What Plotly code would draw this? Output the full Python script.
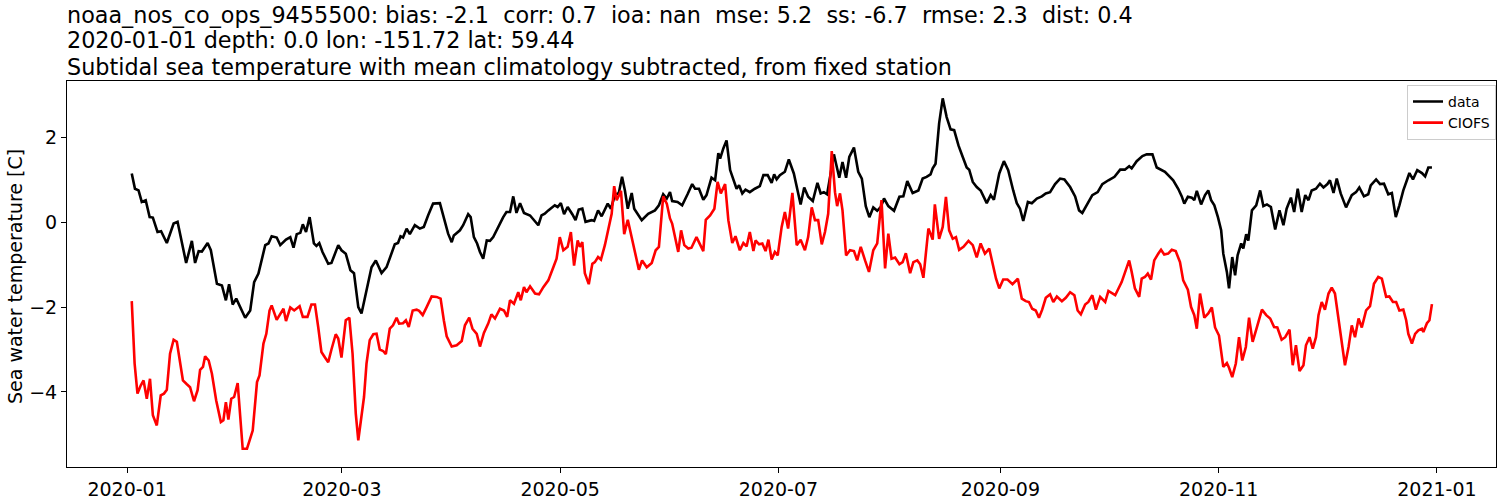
import pandas as pd
import plotly.graph_objects as go

# ---- data (day offsets from 2020-01-01, values in deg C) ----
data_days = [1.3, 2.2, 3.2, 4.1, 5.2, 6.3, 7.2, 8.5, 9.5, 11.1, 13.0, 14.1, 16.5, 18.1, 19.0, 20.0,
             20.9, 22.5, 23.4, 25.1, 26.5, 27.6, 28.5, 29.5, 30.5, 31.8, 33.0, 34.4, 35.5, 36.7,
             38.6, 39.5, 40.4, 41.8, 42.8, 44.4, 45.6, 46.5, 47.4, 48.4, 49.1, 50.0, 51.0, 52.2,
             52.9, 53.7, 54.6, 56.2, 57.1, 59.0, 59.9, 61.1, 62.4, 63.4, 64.6, 65.5, 66.9, 68.3,
             69.5, 71.1, 72.5, 74.8, 75.7, 76.4, 77.1, 78.1, 79.0, 80.4, 81.8, 82.9, 84.1, 85.5,
             87.4, 88.8, 89.7, 90.7, 91.3, 93.0, 93.9, 95.3, 96.0, 96.9, 97.8, 98.6, 99.5, 100.5,
             101.4, 102.3, 103.7, 105.1, 106.0, 107.0, 107.9, 108.8, 109.8, 110.9, 112.6, 113.7,
             114.9, 115.8, 116.7, 117.7, 119.5, 120.3, 121.2, 122.1, 123.1, 124.4, 125.3, 126.2,
             127.2, 128.1, 129.8, 130.5, 131.6, 132.6, 134.3, 135.2, 136.3, 137.4, 138.3, 139.1,
             139.9, 141.0, 141.7, 143.8, 145.6, 147.5, 148.6, 149.8, 150.8, 151.7, 152.3, 153.8,
             155.1, 156.6, 157.9, 158.7, 159.8, 161.0, 161.9, 163.3, 164.3, 165.2, 165.7, 166.6,
             167.5, 168.5, 169.7, 170.3, 171.0, 171.9, 172.8, 174.0, 175.4, 176.8, 177.8, 179.0,
             180.1, 180.8, 181.5, 182.4, 183.8, 184.9, 186.3, 188.2, 189.2, 190.3, 191.6, 192.9,
             193.8, 194.7, 195.6, 196.7, 197.5, 198.1, 199.0, 199.9, 200.9, 201.8, 203.1, 204.3,
             205.3, 206.4, 207.4, 208.5, 209.6, 210.6, 211.5, 212.7, 214.3, 215.8, 216.9, 218.0,
             219.5, 221.1, 222.3, 223.4, 224.5, 225.1, 225.9, 226.9, 227.9, 229.0, 230.1, 231.1,
             232.3, 233.5, 234.6, 235.3, 236.3, 237.4, 238.5, 240.2, 241.3, 242.2, 243.7, 245.0,
             246.2, 247.6, 248.6, 249.5, 250.4, 251.7, 252.8, 254.2, 255.6, 256.7, 257.9, 259.3,
             260.7, 261.9, 263.5, 264.9, 266.0, 266.9, 268.4, 269.7, 271.2, 272.5, 274.2, 275.9,
             277.5, 278.8, 280.0, 280.7, 282.1, 283.7, 284.9, 286.5, 287.7, 288.9, 290.0, 290.9,
             292.3, 293.7, 294.7, 295.4, 296.4, 297.5, 298.2, 298.9, 300.1, 301.2, 302.1, 302.9,
             303.8, 304.8, 305.7, 306.3, 307.3, 307.9, 308.8, 309.6, 310.3, 311.3, 311.9, 312.7,
             313.3, 314.3, 315.5, 316.6, 317.5, 318.5, 319.6, 320.8, 322.0, 323.1, 324.0, 325.2,
             326.1, 327.1, 328.2, 329.2, 330.1, 331.0, 332.2, 333.3, 334.3, 335.4, 336.1, 337.1,
             338.0, 339.1, 340.6, 342.2, 343.4, 344.3, 345.6, 346.8, 347.5, 349.0, 350.1, 351.2,
             352.4, 353.4, 354.5, 355.5, 356.6, 357.6, 358.3, 359.3, 360.5, 361.8, 362.7, 363.6,
             364.6]
data_vals = [1.15, 0.79, 0.75, 0.48, 0.52, 0.12, 0.11, -0.23, -0.21, -0.49, -0.03, 0.01, -0.96, -0.44,
             -0.96, -0.68, -0.69, -0.49, -0.66, -1.45, -1.49, -1.84, -1.46, -1.94, -1.80, -2.04,
             -2.25, -2.08, -1.41, -1.21, -0.54, -0.50, -0.33, -0.36, -0.54, -0.41, -0.35, -0.60,
             -0.28, -0.25, -0.05, -0.23, 0.12, -0.50, -0.56, -0.49, -0.70, -0.98, -0.96, -0.54,
             -0.66, -0.74, -1.13, -1.20, -2.00, -2.15, -1.60, -1.06, -0.90, -1.20, -1.06, -0.52,
             -0.49, -0.33, -0.36, -0.15, -0.28, -0.07, -0.15, -0.11, 0.16, 0.44, 0.45, -0.03,
             -0.27, -0.47, -0.31, -0.19, -0.07, 0.19, 0.12, -0.35, -0.50, -0.70, -0.86, -0.43,
             -0.44, -0.35, -0.11, 0.12, 0.24, 0.24, 0.61, 0.22, 0.45, 0.22, 0.16, 0.05, -0.07,
             0.16, 0.20, 0.28, 0.40, 0.36, 0.45, 0.19, 0.36, 0.19, 0.05, 0.30, 0.32, 0.01, 0.05,
             0.03, 0.28, 0.14, 0.44, 0.32, 0.64, 0.69, 1.07, 0.75, 0.32, 0.69, 0.32, 0.05, 0.20,
             0.28, 0.40, 0.66, 0.56, 0.71, 0.50, 0.48, 0.40, 0.66, 0.90, 0.79, 0.79, 0.53, 0.64,
             1.05, 0.99, 1.63, 1.50, 1.74, 1.93, 1.23, 0.91, 0.79, 0.87, 0.68, 0.77, 0.71, 0.79,
             0.85, 1.11, 1.11, 0.93, 1.13, 1.01, 1.11, 1.19, 1.48, 1.15, 0.42, 0.82, 0.60, 0.50,
             0.93, 0.68, 0.71, 0.66, 1.16, 1.60, 1.38, 1.05, 1.42, 1.05, 1.54, 1.76, 1.19, 1.03,
             0.38, 0.12, 0.35, 0.27, 0.36, 0.56, 0.38, 0.27, 0.60, 0.61, 0.97, 0.69, 0.75, 1.03,
             1.07, 1.13, 1.27, 1.38, 2.33, 2.92, 2.48, 2.19, 2.17, 1.81, 1.54, 1.29, 1.24, 0.95,
             0.83, 0.75, 0.45, 0.64, 0.53, 1.15, 1.44, 1.23, 0.75, 0.45, 0.32, 0.03, 0.48, 0.45,
             0.56, 0.61, 0.68, 0.71, 0.90, 1.03, 1.01, 0.83, 0.61, 0.28, 0.22, 0.44, 0.64, 0.71,
             0.90, 0.99, 1.07, 1.24, 1.24, 1.32, 1.27, 1.44, 1.56, 1.60, 1.60, 1.29, 1.23, 1.19,
             1.11, 0.99, 0.79, 0.61, 0.44, 0.60, 0.58, 0.52, 0.74, 0.42, 0.64, 0.75, 0.52, 0.40,
             0.12, -0.19, -0.74, -1.17, -1.56, -0.82, -1.25, -0.78, -0.50, -0.62, -0.28, -0.43,
             0.28, 0.40, 0.75, 0.38, 0.42, 0.36, -0.17, 0.28, -0.07, 0.32, 0.58, 0.24, 0.79, 0.24,
             0.64, 0.52, 0.75, 0.79, 0.91, 0.82, 0.90, 0.99, 0.69, 1.03, 0.68, 0.35, 0.64, 0.71,
             0.82, 0.61, 0.66, 0.87, 1.01, 0.90, 0.91, 0.66, 0.69, 0.12, 0.40, 0.75, 0.99, 1.16,
             1.01, 1.23, 1.16, 1.08, 1.29, 1.29]

model_days = [1.3, 2.1, 2.9, 3.8, 4.6, 5.5, 6.4, 7.2, 8.3, 9.4, 10.3, 11.1, 12.0, 13.0, 13.9, 14.8,
              15.6, 16.7, 17.6, 18.7, 19.7, 20.4, 21.2, 21.8, 22.8, 23.7, 24.9, 26.2, 26.9, 27.6,
              28.3, 29.1, 29.9, 30.9, 31.6, 32.3, 33.5, 34.4, 35.1, 36.3, 37.0, 38.1, 38.9, 39.8,
              40.4, 41.8, 42.8, 43.7, 44.4, 45.6, 46.7, 48.2, 49.1, 50.4, 51.5, 52.5, 53.4, 54.3,
              55.3, 56.2, 57.1, 58.3, 59.0, 59.9, 61.1, 62.1, 63.0, 63.9, 64.6, 65.5, 66.2, 66.9,
              67.8, 68.8, 69.7, 70.6, 71.6, 72.3, 73.4, 74.3, 75.3, 76.0, 77.1, 77.9, 78.7, 79.8,
              80.9, 81.6, 82.6, 83.7, 85.1, 86.5, 87.6, 88.5, 89.3, 90.7, 92.1, 93.5, 94.4, 95.6,
              96.5, 97.7, 98.6, 99.7, 100.9, 101.8, 102.8, 104.2, 105.3, 106.2, 107.0, 108.1,
              109.3, 110.0, 110.9, 111.6, 112.6, 114.0, 115.1, 116.3, 117.7, 119.1, 120.0, 120.9,
              121.9, 123.1, 124.0, 124.9, 125.9, 126.5, 127.2, 127.9, 129.0, 130.0, 130.7, 131.6,
              132.4, 133.5, 134.6, 135.4, 136.1, 136.8, 138.0, 138.9, 139.9, 140.8, 141.7, 143.0,
              143.9, 145.2, 146.6, 147.7, 148.6, 149.2, 149.8, 150.8, 151.7, 152.3, 153.1, 154.0,
              154.8, 155.7, 156.8, 157.7, 159.1, 160.1, 161.0, 161.7, 162.9, 164.1, 165.0, 165.9,
              167.1, 168.0, 169.1, 170.0, 171.2, 172.2, 173.1, 174.0, 175.0, 175.6, 176.6, 177.5,
              178.4, 179.2, 180.1, 181.0, 181.8, 182.9, 183.8, 184.7, 185.9, 187.1, 188.2, 189.4,
              190.3, 191.3, 192.2, 193.1, 194.1, 195.0, 195.9, 196.9, 197.8, 198.4, 199.2, 199.9,
              200.9, 202.0, 203.1, 204.0, 205.0, 206.2, 207.3, 208.5, 209.6, 210.8, 211.8, 212.7,
              213.6, 214.6, 215.8, 216.7, 217.6, 218.8, 219.7, 220.8, 221.6, 222.5, 223.2, 223.9,
              224.5, 225.1, 225.7, 226.2, 226.9, 227.9, 228.8, 229.7, 230.7, 231.6, 232.5, 233.7,
              235.1, 236.3, 237.4, 238.5, 239.7, 240.9, 241.9, 242.8, 243.7, 244.8, 246.0, 247.4,
              248.9, 250.0, 251.1, 252.0, 252.9, 253.9, 254.8, 255.7, 256.7, 257.9, 258.8, 259.8,
              261.2, 262.3, 263.5, 264.7, 265.6, 266.5, 267.7, 268.6, 269.7, 270.7, 271.9, 273.3,
              274.2, 276.1, 277.9, 278.8, 280.0, 280.7, 281.6, 282.8, 283.5, 284.4, 285.2, 286.1,
              287.0, 288.2, 288.9, 289.8, 290.9, 291.9, 293.0, 294.2, 295.1, 296.4, 297.3, 298.2,
              298.9, 299.8, 301.0, 302.1, 303.1, 304.0, 305.1, 306.3, 307.3, 307.9, 308.8, 309.8,
              310.7, 311.6, 312.6, 313.5, 314.5, 315.7, 317.1, 318.3, 319.4, 320.5, 321.4, 322.6,
              323.6, 324.8, 325.7, 326.6, 327.6, 328.7, 329.4, 330.4, 331.3, 332.2, 332.9, 333.8,
              334.7, 335.7, 336.6, 337.5, 338.5, 339.4, 340.3, 341.3, 342.2, 343.1, 344.1, 345.0,
              346.2, 347.3, 348.4, 349.6, 350.6, 351.8, 352.7, 353.7, 354.6, 355.5, 356.6, 357.4,
              358.0, 359.0, 359.9, 360.8, 361.8, 362.2, 363.2, 363.9, 364.6]
model_vals = [-1.86, -3.33, -4.04, -3.85, -3.73, -4.16, -3.69, -4.55, -4.79, -4.08, -4.04, -3.95,
              -3.10, -2.77, -2.82, -3.33, -3.73, -3.82, -3.89, -4.22, -3.96, -3.48, -3.41, -3.16,
              -3.26, -3.57, -4.20, -4.71, -4.67, -4.24, -4.65, -4.16, -4.12, -3.79, -4.51, -5.34,
              -5.34, -5.06, -4.91, -3.77, -3.61, -2.86, -2.63, -2.08, -1.96, -2.30, -2.15, -2.04,
              -2.33, -2.01, -2.08, -1.98, -2.23, -2.23, -1.94, -1.94, -2.47, -3.06, -3.19, -3.30,
              -3.00, -2.64, -2.74, -3.19, -2.31, -2.25, -3.10, -4.51, -5.14, -4.59, -4.12, -3.33,
              -2.78, -2.64, -2.63, -3.00, -3.04, -3.11, -2.51, -2.43, -2.25, -2.39, -2.38, -2.31,
              -2.47, -2.08, -2.06, -2.09, -2.19, -2.00, -1.75, -1.76, -1.80, -2.31, -2.69, -2.93,
              -2.90, -2.80, -2.43, -2.25, -2.51, -2.63, -2.93, -2.61, -2.39, -2.17, -2.27, -2.04,
              -2.08, -2.23, -1.84, -1.92, -1.65, -1.84, -1.53, -1.65, -1.51, -1.68, -1.70, -1.53,
              -1.37, -1.06, -0.86, -0.35, -0.66, -0.58, -0.23, -1.02, -0.43, -0.58, -0.47, -1.20,
              -1.46, -0.98, -0.94, -0.82, -0.88, -0.54, -0.11, 0.20, 0.85, 0.52, 0.74, -0.28, 0.06,
              -0.27, -0.62, -1.12, -0.90, -1.06, -0.96, -0.66, -0.58, 0.01, 0.61, 0.44, 0.09, -0.03,
              -0.33, -0.70, -0.19, -0.54, -0.62, -0.60, -0.35, -0.54, -0.68, 0.06, 0.16, 0.32, 0.95,
              0.68, 0.90, 0.05, -0.49, -0.33, -0.66, -0.49, -0.57, -0.23, -0.68, -0.43, -0.52,
              -0.50, -0.68, -0.41, -0.88, -0.70, -0.78, -0.11, 0.24, -0.15, 0.69, -0.54, -0.41,
              -0.66, -0.35, 0.35, 0.05, 0.05, -0.52, -0.23, 0.20, 1.68, 0.71, 0.38, 0.68, 0.28,
              -0.78, -0.66, -0.68, -0.90, -0.58, -0.90, -1.17, -0.66, -0.50, 0.52, -1.09, -0.27,
              -0.86, -0.83, -0.99, -0.94, -0.73, -1.20, -0.94, -0.90, -0.99, -1.31, -0.78, -0.15,
              -0.27, -0.41, 0.42, 0.12, -0.39, -0.11, 0.60, -0.19, -0.39, -0.35, -0.65, -0.58,
              -0.44, -0.54, -0.83, -0.50, -0.74, -0.62, -1.02, -1.33, -1.56, -1.35, -1.35, -1.46,
              -1.33, -1.80, -1.86, -1.88, -2.04, -2.08, -2.25, -2.06, -1.78, -1.70, -1.88, -1.75,
              -1.86, -1.78, -1.65, -1.72, -2.08, -2.17, -1.94, -1.88, -1.72, -2.06, -1.76, -1.88,
              -1.62, -1.72, -1.41, -1.20, -0.90, -1.17, -1.56, -1.76, -1.33, -1.29, -1.21, -1.35,
              -0.90, -0.73, -0.65, -0.76, -0.74, -0.65, -0.68, -0.94, -1.37, -1.59, -2.00, -2.19,
              -2.51, -1.68, -2.25, -2.15, -2.01, -2.48, -2.67, -3.41, -3.32, -3.43, -3.65, -3.33,
              -2.71, -3.26, -2.94, -2.25, -2.82, -2.47, -2.06, -2.19, -2.27, -2.47, -2.48, -2.77,
              -2.71, -2.53, -3.37, -2.90, -3.51, -3.37, -2.90, -2.71, -2.98, -2.71, -2.19, -1.88,
              -2.06, -1.68, -1.54, -1.68, -2.31, -2.86, -3.37, -2.94, -2.43, -2.71, -2.27, -2.48,
              -2.08, -1.98, -1.45, -1.29, -1.33, -1.76, -1.75, -1.88, -1.88, -2.08, -2.06, -2.31,
              -2.63, -2.86, -2.63, -2.55, -2.51, -2.59, -2.38, -2.31, -1.93]

series_names = ["data", "CIOFS"]
series_colors = ["black", "red"]
x_tick_dates = ["2020-01-01", "2020-03-01", "2020-05-01", "2020-07-01",
                "2020-09-01", "2020-11-01", "2021-01-01"]
x_tick_text = ["2020-01", "2020-03", "2020-05", "2020-07", "2020-09", "2020-11", "2021-01"]
y_ticks = [-4, -2, 0, 2]

title_lines = [
    "noaa_nos_co_ops_9455500: bias: -2.1  corr: 0.7  ioa: nan  mse: 5.2  ss: -6.7  rmse: 2.3  dist: 0.4",
    "2020-01-01 depth: 0.0 lon: -151.72 lat: 59.44",
    "Subtidal sea temperature with mean climatology subtracted, from fixed station",
]
y_title = "Sea water temperature [C]"

start = pd.Timestamp("2020-01-01")


def to_dates(days):
    return [start + pd.Timedelta(days=d) for d in days]


FONT = "DejaVu Sans"

fig = go.Figure()
for days, vals, name, color in zip([data_days, model_days], [data_vals, model_vals],
                                   series_names, series_colors):
    fig.add_trace(go.Scatter(x=to_dates(days), y=vals, mode="lines", name=name,
                             line=dict(color=color, width=2.6)))

# title lines, stacked upward from the top of the axes
title_shifts = [51, 25.5, -1]
annotations = []
for line, shift in zip(title_lines, title_shifts):
    annotations.append(dict(
        text=line, x=0, y=1, xref="paper", yref="paper",
        xanchor="left", yanchor="bottom", align="left", showarrow=False,
        font=dict(size=22.3, family=FONT, color="black"), xshift=-2, yshift=shift,
    ))
# y-axis label
annotations.append(dict(
    text=y_title, x=0, y=0.5, xref="paper", yref="paper",
    xanchor="center", yanchor="middle", textangle=-90, showarrow=False,
    font=dict(size=19, family=FONT, color="black"), xshift=-52, yshift=-3,
))

fig.update_layout(
    width=1500, height=500,
    margin=dict(l=67.3, r=4, t=80.7, b=33.3, autoexpand=False),
    paper_bgcolor="white", plot_bgcolor="white",
    font=dict(family=FONT, color="black", size=18),
    showlegend=True,
    legend=dict(x=1.0, y=0.99, xanchor="right", yanchor="top",
                bgcolor="rgba(255,255,255,0.8)", bordercolor="#cccccc", borderwidth=1,
                font=dict(size=14, family=FONT), itemwidth=30, tracegroupgap=0),
    annotations=annotations,
)

fig.update_xaxes(
    type="date", automargin=False,
    range=["2019-12-15 05:00", "2021-01-17 12:00"],
    tickvals=x_tick_dates, ticktext=x_tick_text,
    showgrid=False, zeroline=False,
    showline=True, linecolor="black", linewidth=1, mirror=True,
    ticks="outside", ticklen=5, tickwidth=1, tickcolor="black",
    tickfont=dict(size=19, family=FONT),
)
fig.update_yaxes(
    automargin=False,
    range=[-5.77, 3.33],
    tickvals=y_ticks,
    showgrid=False, zeroline=False,
    showline=True, linecolor="black", linewidth=1, mirror=True,
    ticks="outside", ticklen=5, tickwidth=1, tickcolor="black",
    tickfont=dict(size=19, family=FONT),
)

# remove the default 8px page margin so the figure fills the window from its corner
fig.write_html("out.html", config={"displayModeBar": False},
               post_script="document.body.style.margin='0';")
